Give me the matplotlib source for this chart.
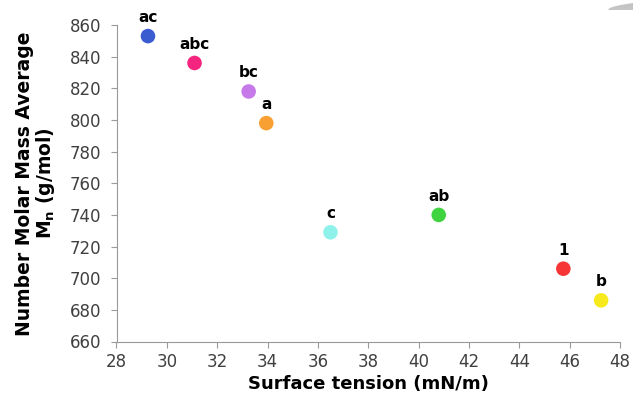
import numpy as np
import matplotlib
matplotlib.use("Agg")
import matplotlib.pyplot as plt
from matplotlib.patches import Polygon

# data
labels = ["ac", "abc", "bc", "a", "c", "ab", "1", "b"]
surface_tension = [29.25, 31.1, 33.25, 33.95, 36.5, 40.8, 45.75, 47.25]
mn = [853, 836, 818, 798, 729, 740, 706, 686]
colors = ["#3b5bd0", "#f5247e", "#c67ae9", "#f9a032", "#8ff2ea", "#3fd43f", "#f63636", "#f7ea1c"]

x_ticks = list(range(28, 49, 2))
y_ticks = list(range(660, 861, 20))

plt.rcParams["font.family"] = ["DejaVu Sans"]

W, H = 633, 400
fig = plt.figure(figsize=(W / 100, H / 100), dpi=100)
ax = fig.add_axes([116.5 / W, 1 - 341.5 / H, (620 - 116.5) / W, (341.5 - 25) / H])

ax.scatter(surface_tension, mn, s=110, c=colors, edgecolors="none", zorder=3, clip_on=False)
for xv, yv, lab in zip(surface_tension, mn, labels):
    ax.annotate(lab, (xv, yv), xytext=(0, 8), textcoords="offset points",
                ha="center", va="bottom", fontsize=11, fontweight="bold", color="black")

ax.set_xlim(28, 48)
ax.set_ylim(660, 860)
ax.set_xticks(x_ticks)
ax.set_yticks(y_ticks)
ax.tick_params(axis="both", labelsize=12, labelcolor="#404040", color="#999999",
               direction="out", length=4)
ax.tick_params(axis="y", pad=7)
ax.tick_params(axis="x", pad=4)
for side in ["top", "right"]:
    ax.spines[side].set_visible(False)
for side in ["left", "bottom"]:
    ax.spines[side].set_color("#999999")

ax.set_xlabel("Surface tension (mN/m)", fontsize=13, fontweight="bold", labelpad=3)
ax.set_ylabel("Number Molar Mass Average\nM$_\\mathbf{n}$ (g/mol)", fontsize=13.5,
              fontweight="bold", labelpad=9, linespacing=1.0)

# faint grey sliver in the top right corner of the original image
xs = np.linspace(608, 633, 20)
top = 10 - 7 * np.sqrt((xs - 608) / 25)
pts = [(x / W, 1 - y / H) for x, y in zip(xs, top)] + [(633 / W, 1 - 10 / H), (608 / W, 1 - 10 / H)]
fig.patches.append(Polygon(pts, closed=True, transform=fig.transFigure,
                           facecolor="#c4c4c4", edgecolor="none", zorder=0))

fig.savefig("out.png", dpi=100)
